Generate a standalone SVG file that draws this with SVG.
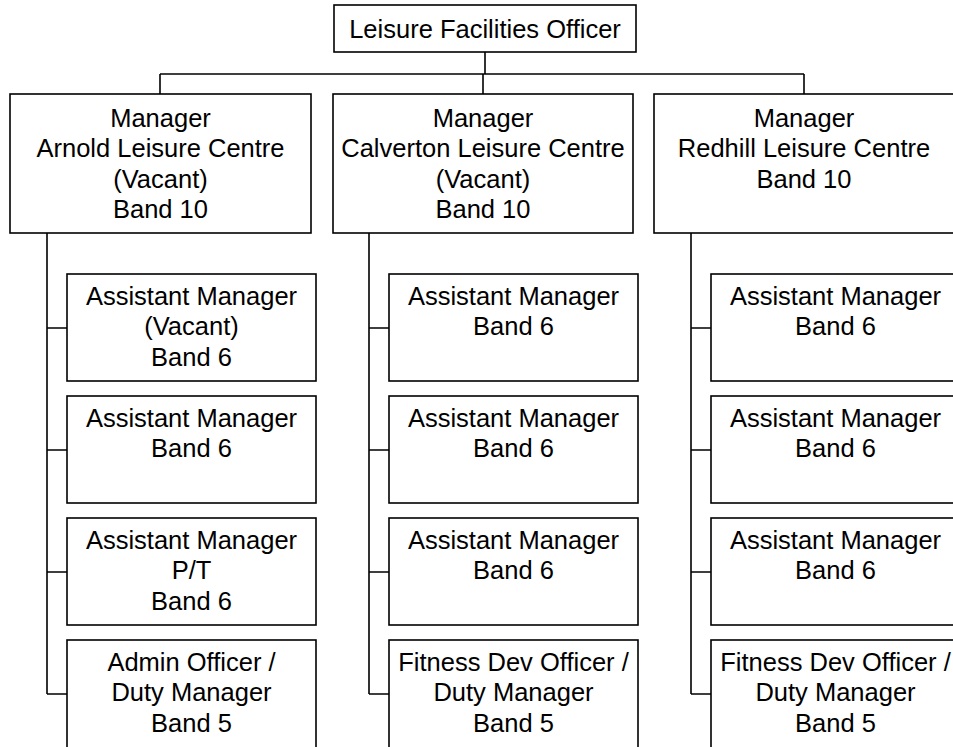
<svg xmlns="http://www.w3.org/2000/svg" width="953" height="747" viewBox="0 0 953 747">
<style>
rect{fill:#fff;stroke:#000;stroke-width:1.6}
.c path{fill:none;stroke:#000;stroke-width:1.6}
text{font-family:"Liberation Sans",Arial,sans-serif;font-size:25.5px;fill:#000;text-anchor:middle}
</style>
<rect x="0" y="0" width="953" height="747" style="stroke:none"/>
<g class="c" id="connectors">
<path d="M485 52V74M160 74H804M160 74V94M483 74V94M804 74V94"/>
<path d="M47 233V694M47 328H67M47 450H67M47 572H67M47 694H67"/>
<path d="M369 233V694M369 328H389M369 450H389M369 572H389M369 694H389"/>
<path d="M691 233V694M691 328H711M691 450H711M691 572H711M691 694H711"/>
</g>
<g id="n0"><rect x="334" y="5" width="302" height="47"/><text x="485" y="37.5">Leisure Facilities Officer</text></g>
<g id="m1"><rect x="10" y="94" width="301" height="139"/><text y="127"><tspan x="160.5">Manager</tspan><tspan x="160.5" dy="30.3">Arnold Leisure Centre</tspan><tspan x="160.5" dy="30.3">(Vacant)</tspan><tspan x="160.5" dy="30.3">Band 10</tspan></text></g>
<g id="m2"><rect x="333" y="94" width="300" height="139"/><text y="127"><tspan x="483">Manager</tspan><tspan x="483" dy="30.3">Calverton Leisure Centre</tspan><tspan x="483" dy="30.3">(Vacant)</tspan><tspan x="483" dy="30.3">Band 10</tspan></text></g>
<g id="m3"><rect x="654" y="94" width="310" height="139"/><text y="127"><tspan x="804">Manager</tspan><tspan x="804" dy="30.3">Redhill Leisure Centre</tspan><tspan x="804" dy="30.3">Band 10</tspan></text></g>
<g id="a1"><rect x="67" y="274" width="249" height="107"/><text y="305"><tspan x="191.5">Assistant Manager</tspan><tspan x="191.5" dy="30.3">(Vacant)</tspan><tspan x="191.5" dy="30.3">Band 6</tspan></text></g>
<g id="a2"><rect x="67" y="396" width="249" height="107"/><text y="427"><tspan x="191.5">Assistant Manager</tspan><tspan x="191.5" dy="30.3">Band 6</tspan></text></g>
<g id="a3"><rect x="67" y="518" width="249" height="107"/><text y="549"><tspan x="191.5">Assistant Manager</tspan><tspan x="191.5" dy="30.3">P/T</tspan><tspan x="191.5" dy="30.3">Band 6</tspan></text></g>
<g id="a4"><rect x="67" y="640" width="249" height="120"/><text y="671"><tspan x="191.5">Admin Officer /</tspan><tspan x="191.5" dy="30.3">Duty Manager</tspan><tspan x="191.5" dy="30.3">Band 5</tspan></text></g>
<g id="b1"><rect x="389" y="274" width="249" height="107"/><text y="305"><tspan x="513.5">Assistant Manager</tspan><tspan x="513.5" dy="30.3">Band 6</tspan></text></g>
<g id="b2"><rect x="389" y="396" width="249" height="107"/><text y="427"><tspan x="513.5">Assistant Manager</tspan><tspan x="513.5" dy="30.3">Band 6</tspan></text></g>
<g id="b3"><rect x="389" y="518" width="249" height="107"/><text y="549"><tspan x="513.5">Assistant Manager</tspan><tspan x="513.5" dy="30.3">Band 6</tspan></text></g>
<g id="b4"><rect x="389" y="640" width="249" height="120"/><text y="671"><tspan x="513.5">Fitness Dev Officer /</tspan><tspan x="513.5" dy="30.3">Duty Manager</tspan><tspan x="513.5" dy="30.3">Band 5</tspan></text></g>
<g id="c1"><rect x="711" y="274" width="260" height="107"/><text y="305"><tspan x="835.5">Assistant Manager</tspan><tspan x="835.5" dy="30.3">Band 6</tspan></text></g>
<g id="c2"><rect x="711" y="396" width="260" height="107"/><text y="427"><tspan x="835.5">Assistant Manager</tspan><tspan x="835.5" dy="30.3">Band 6</tspan></text></g>
<g id="c3"><rect x="711" y="518" width="260" height="107"/><text y="549"><tspan x="835.5">Assistant Manager</tspan><tspan x="835.5" dy="30.3">Band 6</tspan></text></g>
<g id="c4"><rect x="711" y="640" width="260" height="120"/><text y="671"><tspan x="835.5">Fitness Dev Officer /</tspan><tspan x="835.5" dy="30.3">Duty Manager</tspan><tspan x="835.5" dy="30.3">Band 5</tspan></text></g>
</svg>
